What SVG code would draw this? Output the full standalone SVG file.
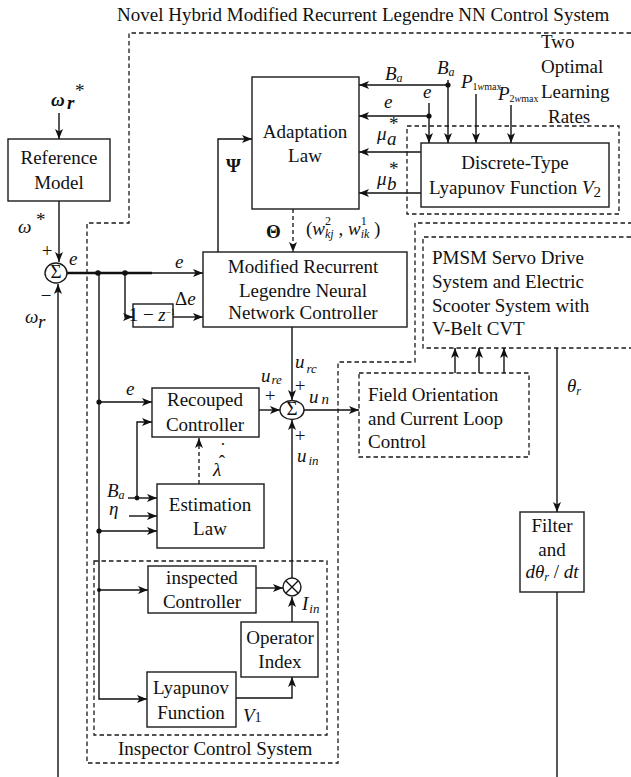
<svg xmlns="http://www.w3.org/2000/svg" width="631" height="777" viewBox="0 0 631 777" font-family="Liberation Serif, Times New Roman, serif">
<style>
.bx{fill:#fff;stroke:#1a1a1a;stroke-width:1.4}
.db{fill:none;stroke:#1a1a1a;stroke-width:1.3;stroke-dasharray:4.5,3}
.ln{fill:none;stroke:#111;stroke-width:1.4}
.la{fill:none;stroke:#111;stroke-width:1.4;marker-end:url(#ar)}
.da{fill:none;stroke:#111;stroke-width:1.3;stroke-dasharray:4,3;marker-end:url(#ar)}
.dot{fill:#111}
text{font-size:19px;fill:#111}
.c{text-anchor:middle}
.i{font-style:italic}
</style>
<defs>
<marker id="ar" viewBox="0 0 10 8" refX="10" refY="4" markerWidth="10" markerHeight="8" orient="auto" markerUnits="userSpaceOnUse">
<path d="M0,0 L10,4 L0,8 L2.5,4 z" fill="#111"/>
</marker>
</defs>

<text x="117" y="21" font-size="20">Novel Hybrid Modified Recurrent Legendre NN Control System</text>

<g id="regions">
<path class="db" d="M631,33 L129,33 L129,223 L87,223 L87,763 L338,763 L338,362 L415,362 L415,223 L631,223"/>
<path class="db" d="M631,237 L423,237 L423,348 L631,348"/>
<rect class="db" x="407" y="126" width="212" height="88"/>
<rect class="db" x="94" y="561" width="233" height="174"/>
<text x="541" y="48">Two</text>
<text x="541" y="73">Optimal</text>
<text x="541" y="98">Learning</text>
<text x="548" y="123">Rates</text>
<text x="118" y="755">Inspector Control System</text>
</g>

<g id="connectors">
<path class="la" d="M59,113 L59,139"/>
<path class="la" d="M59,201 L59,262"/>
<path class="la" d="M58,777 L58,284"/>
<path class="la" d="M67,273 L203,273"/>
<path d="M67,273 L152,273" stroke="#111" stroke-width="2.6" fill="none"/>
<path class="la" d="M125,273 L125,317 L133,317"/>
<path class="la" d="M173,317 L203,317"/>
<path class="la" d="M99,273 L99,699 L147,699"/>
<path class="la" d="M99,402 L152,402"/>
<path class="la" d="M99,531 L157,531"/>
<path class="la" d="M99,590 L148,590"/>
<path class="la" d="M128,498 L157,498"/>
<path class="la" d="M137,498 L137,422 L152,422"/>
<path class="la" d="M129,516 L157,516"/>
<path class="da" d="M199,484 L199,438"/>
<path class="la" d="M259,410 L280,410"/>
<path class="la" d="M292,327 L292,400"/>
<path class="la" d="M304,410 L359,410"/>
<path class="la" d="M292,578 L292,420"/>
<path class="la" d="M256,588 L283,588"/>
<path class="la" d="M292,622 L292,597"/>
<path class="la" d="M236,698 L292,698 L292,677"/>
<path class="la" d="M218,252 L218,139 L252,139"/>
<path class="da" d="M293,209 L293,252"/>
<path class="la" d="M448,80 L448,143"/>
<path class="la" d="M448,85 L359,85"/>
<path class="la" d="M429,103 L429,143"/>
<path class="la" d="M429,116 L359,116"/>
<path class="la" d="M476,94 L476,143"/>
<path class="la" d="M511,105 L511,143"/>
<path class="la" d="M421,152 L359,152"/>
<path class="la" d="M421,193 L359,193"/>
<path class="la" d="M455,373 L455,348"/>
<path class="la" d="M479,373 L479,348"/>
<path class="la" d="M504,373 L504,348"/>
<path class="la" d="M557,348 L557,512" stroke-width="2"/>
<path class="ln" d="M557,592 L557,777"/>
<circle class="dot" cx="98" cy="273" r="2.8"/>
<circle class="dot" cx="125" cy="273" r="2.8"/>
<circle class="dot" cx="99" cy="402" r="2.6"/>
<circle class="dot" cx="99" cy="531" r="2.6"/>
<circle class="dot" cx="99" cy="590" r="2"/>
<circle class="dot" cx="137" cy="498" r="2.4"/>
<circle class="dot" cx="448" cy="85" r="2.6"/>
<circle class="dot" cx="429" cy="116" r="2.6"/>
</g>

<g id="labels">
<text x="51" y="106" class="i" font-weight="bold" font-size="22">ω</text>
<text x="67" y="109" class="i" font-weight="bold" font-size="16">r</text>
<text x="75" y="97" font-size="18">*</text>
<text x="18" y="233" class="i" font-size="21">ω</text>
<text x="36" y="226" font-size="16">*</text>
<text x="47" y="257" class="c" font-size="16">+</text>
<text x="46" y="302" class="c" font-size="18">−</text>
<text x="25" y="323" class="i" font-size="20">ω</text>
<text x="38" y="328" class="i" font-size="13">r</text>
<text x="69" y="265" class="i" font-size="17">e</text>
<text x="175" y="268" class="i" font-size="17">e</text>
<text x="175" y="305" font-size="17">Δ<tspan class="i">e</tspan></text>
<text x="126" y="395" class="i" font-size="17">e</text>
<text x="107" y="497" class="i" font-size="16">B<tspan font-size="12" dy="2">a</tspan></text>
<text x="109" y="515" class="i" font-size="17">η</text>
<text x="213" y="476" class="i" font-size="21">λ</text>
<text x="222" y="468" class="c" font-size="16">ˆ</text>
<text x="223" y="456" class="c" font-size="16">˙</text>
<text x="261" y="382" class="i" font-size="17">u<tspan font-size="13" dy="2" dx="1">re</tspan></text>
<text x="270" y="402" class="c" font-size="15">+</text>
<text x="295" y="368" class="i" font-size="17">u<tspan font-size="13" dy="5" dx="2">rc</tspan></text>
<text x="300" y="392" class="c" font-size="15">+</text>
<text x="309" y="403" class="i" font-size="19">u<tspan font-size="15" dy="1" dx="3">n</tspan></text>
<text x="300" y="442" class="c" font-size="15">+</text>
<text x="297" y="462" class="i" font-size="17">u<tspan font-size="13" dy="3" dx="2">in</tspan></text>
<text x="302" y="610" class="i" font-size="17">I<tspan font-size="13" dy="3" dx="1">in</tspan></text>
<text x="243" y="722" class="i" font-size="19">V<tspan font-size="14" font-style="normal">1</tspan></text>
<text x="226" y="172" font-weight="bold" font-size="19">Ψ</text>
<text x="266" y="238" font-weight="bold" font-size="18">Θ</text>
<text x="306" y="235" font-size="18">(<tspan class="i">w</tspan><tspan font-size="12" dy="-10">2</tspan><tspan class="i" font-size="12" dx="-6" dy="13">kj</tspan><tspan dy="-3"> , </tspan><tspan class="i">w</tspan><tspan font-size="12" dy="-10">1</tspan><tspan class="i" font-size="12" dx="-6" dy="13">ik</tspan><tspan dy="-3"> )</tspan></text>
<text x="385" y="80" class="i" font-size="17">B<tspan font-size="12" dy="2">a</tspan></text>
<text x="384" y="108" class="i" font-size="17">e</text>
<text x="437" y="74" class="i" font-size="17">B<tspan font-size="12" dy="2">a</tspan></text>
<text x="423" y="98" class="i" font-size="17">e</text>
<text x="461" y="88" class="i" font-size="17">P<tspan font-size="10" dy="2" font-style="normal">1<tspan font-style="italic">w</tspan>max</tspan></text>
<text x="498" y="100" class="i" font-size="17">P<tspan font-size="10" dy="2" font-style="normal">2<tspan font-style="italic">w</tspan>max</tspan></text>
<text x="377" y="140" class="i" font-size="17">μ</text>
<text x="387" y="145" class="i" font-size="12">a</text>
<text x="389" y="130" font-size="12">*</text>
<text x="377" y="185" class="i" font-size="17">μ</text>
<text x="387" y="190" class="i" font-size="12">b</text>
<text x="389" y="175" font-size="12">*</text>
<text x="567" y="392" class="i" font-size="17">θ<tspan font-size="12" dy="3">r</tspan></text>
</g>

<g id="ref-model"><rect class="bx" x="8" y="139" width="102" height="62"/><text x="59" y="164" class="c">Reference</text><text x="59" y="189" class="c">Model</text></g>
<g id="sum1"><ellipse class="bx" cx="56" cy="273" rx="11" ry="10"/><text x="56" y="278" class="c" font-size="14">Σ</text></g>
<g id="adaptation-law"><rect class="bx" x="252" y="77" width="107" height="132"/><text x="305" y="138" class="c">Adaptation</text><text x="305" y="162" class="c">Law</text></g>
<g id="nn-controller"><rect class="bx" x="203" y="252" width="204" height="75"/><text x="303" y="273" class="c">Modified Recurrent</text><text x="303" y="297" class="c">Legendre Neural</text><text x="303" y="319" class="c">Network Controller</text></g>
<g id="delay"><rect class="bx" x="133" y="304" width="40" height="23"/><text x="152" y="321" class="c" font-size="13">1 − <tspan class="i">z</tspan><tspan font-size="9" dy="-6">−1</tspan></text></g>
<g id="lyapunov-v2"><rect class="bx" x="421" y="143" width="188" height="64"/><text x="515" y="169" class="c">Discrete-Type</text><text x="515" y="194" class="c">Lyapunov Function <tspan class="i">V</tspan><tspan font-size="15" dy="3">2</tspan></text></g>
<g id="pmsm"><text x="432" y="264">PMSM Servo Drive</text><text x="432" y="288">System and Electric</text><text x="432" y="312">Scooter System with</text><text x="432" y="335">V-Belt CVT</text></g>
<g id="field-orientation"><rect class="db" x="359" y="373" width="170" height="84"/><text x="368" y="401">Field Orientation</text><text x="368" y="425">and Current Loop</text><text x="368" y="448">Control</text></g>
<g id="recouped"><rect class="bx" x="152" y="388" width="107" height="49"/><text x="205" y="406" class="c">Recouped</text><text x="205" y="431" class="c">Controller</text></g>
<g id="sum2"><ellipse class="bx" cx="292" cy="410" rx="12" ry="9.5"/><text x="292" y="415" class="c" font-size="14">Σ</text></g>
<g id="estimation-law"><rect class="bx" x="157" y="484" width="107" height="64"/><text x="210" y="511" class="c">Estimation</text><text x="210" y="535" class="c">Law</text></g>
<g id="inspected"><rect class="bx" x="148" y="566" width="108" height="47"/><text x="202" y="584" class="c">inspected</text><text x="202" y="608" class="c">Controller</text></g>
<g id="multiplier"><circle class="bx" cx="292" cy="587" r="9"/><path class="ln" d="M286,581 L298,593 M298,581 L286,593" stroke-width="1.1"/></g>
<g id="operator-index"><rect class="bx" x="241" y="622" width="77" height="55"/><text x="280" y="644" class="c">Operator</text><text x="280" y="668" class="c">Index</text></g>
<g id="lyapunov-v1"><rect class="bx" x="147" y="672" width="89" height="55"/><text x="191" y="694" class="c">Lyapunov</text><text x="191" y="719" class="c">Function</text></g>
<g id="filter"><rect class="bx" x="520" y="512" width="64" height="80"/><text x="552" y="532" class="c">Filter</text><text x="552" y="556" class="c">and</text><text x="552" y="578" class="c" font-size="17"><tspan class="i">dθ</tspan><tspan class="i" font-size="12" dy="3">r</tspan><tspan dy="-3"> / </tspan><tspan class="i">dt</tspan></text></g>
</svg>
